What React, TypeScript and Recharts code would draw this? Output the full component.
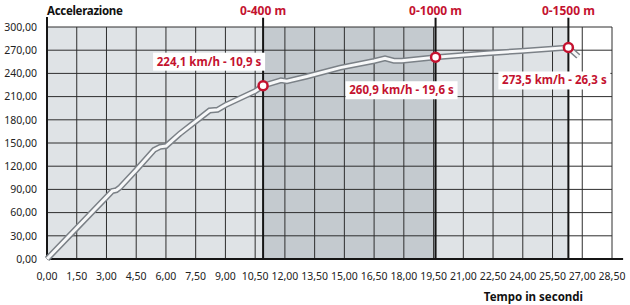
import React from 'react';
import {
  ComposedChart,
  Line,
  XAxis,
  YAxis,
  ReferenceArea,
  ReferenceLine,
  ReferenceDot,
} from 'recharts';

// tempo (s) e velocità (km/h)
const tempo = [0, 1.5, 3.0, 3.3, 3.5, 3.7, 4.5, 5.4, 5.7, 6.0, 6.7, 7.5, 8.2, 8.6, 9.0, 10.5, 10.9, 11.8, 12.1, 13.1, 14.8, 16.5, 17.05, 17.5, 17.9, 19.6, 22.2, 23.9, 26.3, 26.8];
const velocita = [0, 40, 80, 88, 89, 93, 115, 141, 145, 146, 162, 178, 192, 193, 199, 217, 224.1, 231, 230, 236, 247.5, 256, 259.5, 256.5, 256.5, 260.9, 266, 269, 273.5, 262];

const xTicks = [0, 1.5, 3, 4.5, 6, 7.5, 9, 10.5, 12, 13.5, 15, 16.5, 18, 19.5, 21, 22.5, 24, 25.5, 27, 28.5];
const yTicks = [0, 30, 60, 90, 120, 150, 180, 210, 240, 270, 300];

const tempiTraguardo = [10.9, 19.6, 26.3];
const velocitaTraguardo = [224.1, 260.9, 273.5];
const distanze = ['0-400 m', '0-1000 m', '0-1500 m'];
const etichette = ['224,1 km/h - 10,9 s', '260,9 km/h - 19,6 s', '273,5 km/h - 26,3 s'];

// spostamento dei riquadri rispetto al punto
const offsetEtichette = [
  { dx: -54, dy: -24 },
  { dx: -34, dy: 33 },
  { dx: -14, dy: 33 },
];

const RED = '#c4122f';
const GRID = '#2e2e2e';
const FONT = "'Noto Sans', sans-serif";

const data = tempo.map((t, i) => ({ t, v: velocita[i] }));

const fmt = (n: number) => n.toFixed(2).replace('.', ',');

function BoxLabel(props: any) {
  const { viewBox, text, dx, dy } = props;
  const cx = viewBox.x + viewBox.width / 2 + dx;
  const cy = viewBox.y + viewBox.height / 2 + dy;
  const w = 112;
  const h = 18;
  return (
    <g>
      <rect x={cx - w / 2} y={cy - h / 2} width={w} height={h} fill="#ffffff" />
      <text
        x={cx}
        y={cy + 4}
        textAnchor="middle"
        fill={RED}
        fontFamily={FONT}
        fontWeight="bold"
        fontSize={11.5}
      >
        {text}
      </text>
    </g>
  );
}

export default function App() {
  return (
    <div style={{ width: 630, height: 305 }}>
      <style>{`body{margin:0}`}</style>
      <ComposedChart
        width={630}
        height={305}
        data={data}
        margin={{ top: 27, right: 18, bottom: 0, left: 0 }}
      >
        <ReferenceArea x1={0} x2={10.9} y1={0} y2={300} fill="#dfe3e6" fillOpacity={1} stroke="none" />
        <ReferenceArea x1={10.9} x2={19.6} y1={0} y2={300} fill="#c4cacf" fillOpacity={1} stroke="none" />
        <ReferenceArea x1={19.6} x2={26.3} y1={0} y2={300} fill="#dfe3e6" fillOpacity={1} stroke="none" />
        {xTicks.map((t) => (
          <ReferenceLine key={'gx' + t} x={t} stroke={GRID} strokeWidth={1} />
        ))}
        {yTicks.map((v) => (
          <ReferenceLine key={'gy' + v} y={v} stroke={GRID} strokeWidth={1} />
        ))}
        <XAxis
          dataKey="t"
          type="number"
          domain={[0, 28.5]}
          ticks={xTicks}
          tickFormatter={fmt}
          axisLine={false}
          tickLine={false}
          tickSize={0}
          tickMargin={14}
          height={46}
          interval={0}
          tick={{ fill: '#222', fontSize: 10.5, fontFamily: FONT }}
        />
        <YAxis
          type="number"
          domain={[0, 300]}
          ticks={yTicks}
          tickFormatter={fmt}
          axisLine={false}
          tickLine={false}
          tickSize={0}
          tickMargin={10}
          width={47}
          interval={0}
          tick={{ fill: '#222', fontSize: 10.5, fontFamily: FONT }}
        />
        {tempiTraguardo.map((t, i) => (
          <ReferenceLine
            key={'l' + i}
            segment={[{ x: t, y: 0 }, { x: t, y: 312 }]}
            ifOverflow="visible"
            stroke="#151515"
            strokeWidth={2}
            label={{
              value: distanze[i],
              position: 'top',
              offset: 3,
              fill: RED,
              fontWeight: 'bold',
              fontSize: 12,
              fontFamily: FONT,
            }}
          />
        ))}
        <ReferenceLine segment={[{ x: 0, y: 0 }, { x: 0, y: 313 }]} ifOverflow="visible" stroke="#151515" strokeWidth={2} />
        <ReferenceLine segment={[{ x: 0, y: 0 }, { x: 29.06, y: 0 }]} ifOverflow="visible" stroke="#151515" strokeWidth={2} />
        <Line type="linear" dataKey="v" stroke="#7b8187" strokeWidth={6} dot={false} isAnimationActive={false} />
        <Line type="linear" dataKey="v" stroke="#f7f8f9" strokeWidth={3} dot={false} isAnimationActive={false} />
        {tempiTraguardo.map((t, i) => (
          <ReferenceDot
            key={'d' + i}
            x={t}
            y={velocitaTraguardo[i]}
            r={4.5}
            fill="#ffffff"
            stroke={RED}
            strokeWidth={2.5}
            ifOverflow="visible"
            label={<BoxLabel text={etichette[i]} dx={offsetEtichette[i].dx} dy={offsetEtichette[i].dy} />}
          />
        ))}
        <text x={47} y={15} fill="#111" fontFamily={FONT} fontWeight="bold" fontSize={11.5} letterSpacing={-0.3}>
          Accelerazione
        </text>
        <text x={583} y={301} textAnchor="end" fill="#111" fontFamily={FONT} fontWeight="bold" fontSize={11.5}>
          Tempo in secondi
        </text>
      </ComposedChart>
    </div>
  );
}
